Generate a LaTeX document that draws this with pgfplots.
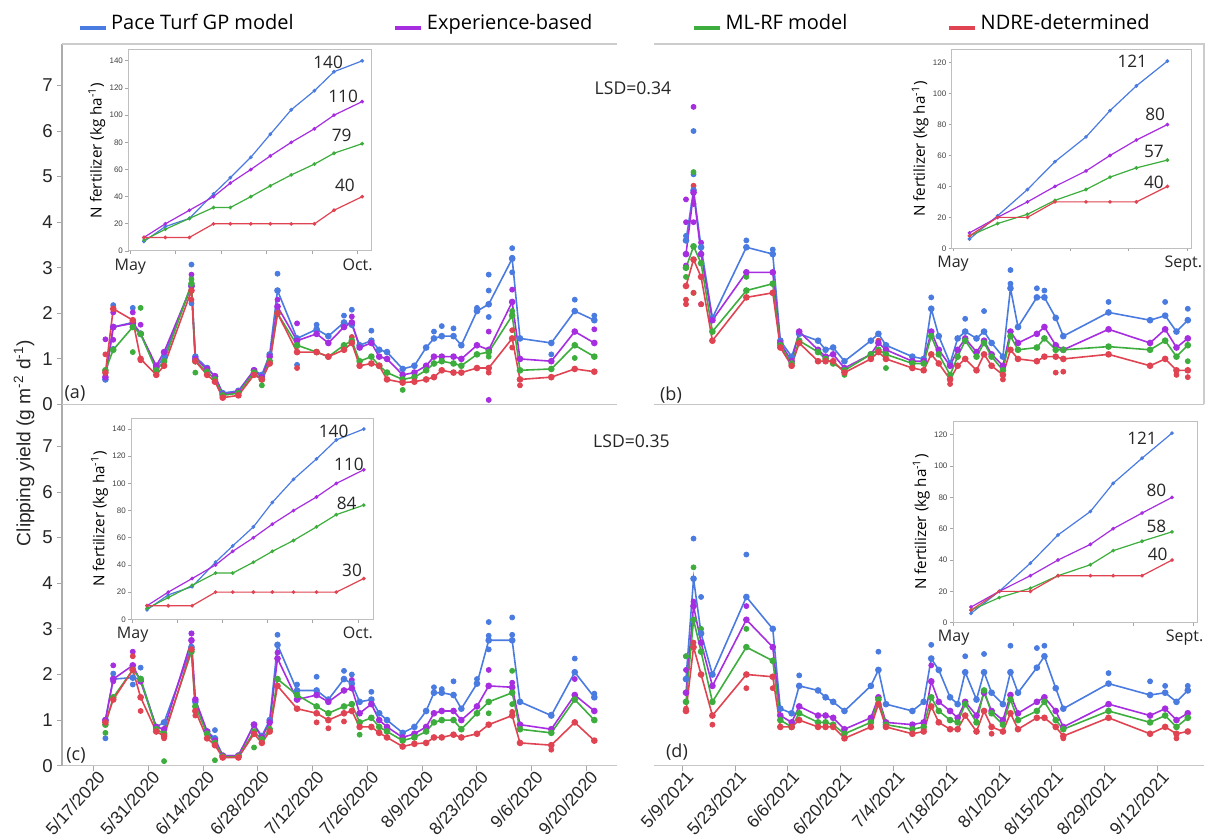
\documentclass[border=0pt]{standalone}
\usepackage{fontspec}
\setmainfont{Liberation Sans}
\newfontfamily\os{Open Sans}
\usepackage{pgfplots}
\pgfplotsset{compat=1.18}
\usepackage{pgfplotstable}

\definecolor{cB}{HTML}{4A7BE0}
\definecolor{cP}{HTML}{A62EE0}
\definecolor{cG}{HTML}{3DAE3D}
\definecolor{cR}{HTML}{E04452}

% 2020, panel (a): days since 1 May
\pgfplotstableread{
d b p g r
19 0.55 0.60 0.75 0.70
21 1.70 1.70 1.20 2.10
26 1.80 1.78 1.70 1.85
28 1.55 1.55 1.55 1.00
32 0.80 0.85 0.75 0.65
34 1.05 1.15 0.95 0.85
41 2.60 2.60 2.65 2.50
42 1.05 1.00 0.95 0.95
45 0.80 0.78 0.72 0.65
47 0.62 0.62 0.55 0.50
49 0.25 0.22 0.20 0.15
53 0.30 0.28 0.25 0.20
57 0.75 0.75 0.70 0.65
59 0.65 0.60 0.55 0.55
61 1.10 1.05 0.95 0.90
63 2.50 2.15 2.00 2.00
68 1.45 1.40 1.30 1.15
73 1.65 1.55 1.15 1.15
76 1.50 1.35 1.05 1.05
80 1.80 1.70 1.30 1.20
82 1.75 1.80 1.40 1.35
84 1.30 1.25 0.95 0.85
87 1.40 1.35 1.05 0.90
89 1.20 1.05 0.85 0.85
91 1.15 1.00 0.70 0.55
95 0.78 0.65 0.55 0.48
98 0.85 0.70 0.60 0.50
101 1.25 0.85 0.75 0.55
103 1.45 1.05 0.90 0.60
105 1.50 1.05 0.95 0.75
108 1.50 1.05 0.90 0.70
110 1.30 1.00 0.85 0.70
114 2.05 1.30 1.10 0.80
117 2.20 1.20 1.15 0.80
123 3.20 2.25 1.95 1.45
125 1.45 1.00 0.75 0.55
133 1.35 0.95 0.78 0.60
139 2.05 1.60 1.30 0.78
144 1.85 1.35 1.05 0.72
}\tA

% 2020, panel (c)
\pgfplotstableread{
d b p g r
19 1.00 1.00 0.90 0.95
21 1.90 1.90 1.50 1.45
26 1.93 2.20 2.10 2.10
28 1.90 1.85 1.90 1.50
32 0.85 0.85 0.80 0.75
34 0.95 0.80 0.70 0.65
41 2.60 2.75 2.50 2.55
42 1.40 1.45 1.30 1.20
45 0.75 0.75 0.70 0.60
47 0.60 0.55 0.50 0.45
49 0.22 0.22 0.20 0.18
53 0.22 0.22 0.20 0.18
57 0.90 0.90 0.75 0.70
59 0.65 0.62 0.58 0.50
61 1.00 0.95 0.80 0.75
63 2.65 2.35 1.90 1.75
68 1.65 1.45 1.55 1.25
73 1.65 1.55 1.30 1.15
76 1.45 1.40 1.15 1.00
80 1.90 1.65 1.30 1.15
82 1.80 1.70 1.35 1.20
84 1.40 1.15 0.95 0.85
87 1.45 1.35 1.05 0.85
89 1.15 1.00 0.85 0.72
91 1.00 0.85 0.75 0.62
95 0.72 0.62 0.55 0.42
98 0.85 0.70 0.62 0.48
101 1.20 0.85 0.75 0.50
103 1.60 1.15 0.95 0.62
105 1.60 1.20 1.00 0.62
108 1.55 1.20 1.00 0.68
110 1.25 1.00 0.80 0.62
114 1.80 1.30 1.15 0.70
117 2.75 1.75 1.40 0.90
123 2.75 1.72 1.60 1.10
125 1.40 0.90 0.80 0.50
133 1.10 0.80 0.72 0.45
139 2.05 1.55 1.45 0.95
144 1.50 1.20 1.00 0.55
}\tC

% 2021, panel (b)
\pgfplotstableread{
d b p g r
9 3.60 3.30 3.00 2.60
11 4.70 4.65 3.47 3.18
13 3.45 3.30 3.10 2.80
16 1.90 1.85 1.60 1.40
25 3.45 2.90 2.50 2.35
32 3.30 2.90 2.65 2.45
34 1.40 1.35 1.30 1.25
37 1.05 0.95 0.90 0.85
39 1.55 1.60 1.40 1.35
44 1.40 1.20 1.15 0.95
46 1.20 1.05 1.00 0.95
48 1.25 1.10 0.90 0.95
51 0.95 0.80 0.75 0.70
58 1.40 1.10 1.10 1.00
60 1.55 1.35 1.20 1.15
62 1.30 1.20 1.10 1.00
69 1.05 0.95 0.90 0.80
72 1.00 0.95 0.90 0.75
74 2.10 1.60 1.50 1.10
76 1.50 1.20 1.10 0.90
79 0.90 0.85 0.65 0.55
81 1.45 1.20 1.05 0.85
83 1.60 1.45 1.40 1.00
86 1.45 1.15 1.05 0.75
88 1.60 1.40 1.35 1.10
90 1.35 1.10 1.05 0.85
93 1.05 0.85 0.75 0.65
95 2.55 1.60 1.50 1.20
97 1.70 1.35 1.20 1.00
102 2.35 1.55 1.25 0.95
104 2.35 1.70 1.45 1.05
107 1.90 1.30 1.20 1.05
109 1.50 1.20 1.20 1.00
121 2.02 1.65 1.27 1.10
132 1.85 1.35 1.20 0.85
136 1.95 1.65 1.40 1.00
139 1.60 1.25 1.05 0.75
142 1.85 1.45 1.30 0.75
}\tB

% 2021, panel (d)
\pgfplotstableread{
d b p g r
9 1.90 1.60 1.40 1.20
11 4.10 3.50 3.20 2.60
13 2.90 2.70 2.50 2.00
16 2.00 1.75 1.40 1.10
25 3.70 3.20 2.60 2.00
32 3.00 2.60 2.30 1.95
34 1.25 1.10 1.00 0.85
37 1.15 0.95 0.85 0.85
39 1.75 1.30 1.15 1.00
44 1.65 1.10 0.95 0.85
46 1.50 1.10 0.95 0.85
48 1.40 1.05 0.90 0.85
51 1.20 0.80 0.70 0.60
58 1.75 1.05 0.95 0.85
60 2.10 1.50 1.45 1.35
62 1.35 0.95 0.90 0.85
69 1.20 0.90 0.80 0.70
72 1.40 0.95 0.85 0.75
74 2.35 1.85 1.50 1.30
76 2.10 1.40 1.20 0.95
79 1.50 1.20 1.00 0.80
81 1.35 1.05 0.95 0.80
83 2.05 1.40 1.35 1.10
86 1.45 1.10 0.95 0.75
88 2.05 1.60 1.65 1.20
90 1.60 1.20 1.15 0.85
93 1.35 1.00 0.90 0.75
95 2.05 1.55 1.45 1.15
97 1.60 1.15 1.00 0.80
102 2.15 1.40 1.20 1.05
104 2.40 1.50 1.40 1.05
107 1.70 1.20 1.00 0.85
109 1.25 0.85 0.80 0.65
121 1.80 1.35 1.20 1.05
132 1.55 1.10 0.95 0.70
136 1.60 1.25 1.10 0.85
139 1.40 1.00 0.85 0.70
142 1.65 1.15 1.05 0.75
}\tD

\tikzset{ann/.style={font=\os\fontsize{8.6}{9}\selectfont, text=black!85, inner sep=0pt}}
\pgfplotsset{
  /pgf/number format/assume math mode=true,
  main/.style={scale only axis, anchor=south west, ymin=0, ymax=7.91, clip=false,
    axis line style={-, draw=gray!45, line width=0.6pt},
    tick style={draw=gray!70, line width=0.5pt},
    tick align=outside, major tick length=2.5pt,
    yticklabel style={font=\fontsize{9.3}{10}\selectfont, text=black!85, inner sep=2pt},
    xticklabel style={font=\fontsize{8.8}{10}\selectfont, text=black!85, rotate=48, anchor=north east, inner sep=0.5pt, xshift=2pt}},
  ln/.style={line width=0.8pt, mark=*, mark size=1.25pt},
  dt/.style={only marks, mark=*, mark size=1.25pt, forget plot},
  inset/.style={scale only axis, anchor=south west, ymin=0, clip=false,
    axis background/.style={fill=white},
    axis line style={draw=gray!50, line width=0.5pt},
    tick style={draw=gray!70, line width=0.4pt},
    tick align=outside, major tick length=1.6pt,
    xtick pos=bottom, ytick pos=left,
    yticklabel style={font=\fontsize{4}{4}\selectfont, text=black!75, inner sep=1pt},
    xticklabel style={font=\os\fontsize{8}{9}\selectfont, text=black!85, inner sep=2pt},
    ylabel={N fertilizer (kg ha\textsuperscript{-1})},
    ylabel style={font=\os\fontsize{7.6}{8}\selectfont, inner sep=1pt}},
  iln/.style={line width=0.6pt, mark=*, mark size=0.6pt}
}

\begin{document}
\begin{tikzpicture}
\useasboundingbox (0pt,0pt) rectangle (602.5pt,418pt);

% ---------------- panel (a)
\begin{axis}[main, at={(31pt,215.75pt)}, width=277.5pt, height=180.25pt,
  xmin=7.9, xmax=149.8, axis x line*=bottom, axis y line*=left,
  y axis line style={draw=gray!65}, xtick=\empty, ytick={0,...,7},
  legend columns=4,
  legend style={draw=none, fill=none, at={(0.028,1.058)}, anchor=west,
    font=\os\fontsize{10}{12}\selectfont, inner sep=0pt,
    /tikz/every even column/.append style={column sep=48pt},
    cells={anchor=west}},
  legend image code/.code={\draw[#1, line width=1.6pt] (0pt,-2.5pt) -- (13pt,-2.5pt);}]
\draw[gray!40, line width=0.6pt] (rel axis cs:0,1) -- (rel axis cs:1,1);
\addplot[dt, cB] coordinates {(21,2.18)(21,1.22)(26,2.12)(41,3.07)(41,2.22)(63,2.87)(73,1.75)(80,1.95)(82,2.08)(87,1.62)(103,1.6)(105,1.72)(108,1.67)(114,2.12)(117,2.85)(117,2.5)(117,1.92)(123,3.43)(123,3.22)(123,2.9)(139,2.3)(144,1.95)(68,0.87)(133,1.1)};
\addplot[dt, cP] coordinates {(19,1.43)(21,2.02)(21,1.42)(26,2.02)(28,1.75)(41,2.85)(63,2.3)(68,1.78)(82,1.93)(117,1.6)(117,0.1)(123,2.52)(144,1.65)};
\addplot[dt, cG] coordinates {(28,2.12)(26,1.15)(41,2.75)(42,0.7)(59,0.42)(95,0.32)(117,1.05)(123,2.05)(139,1.02)};
\addplot[dt, cR] coordinates {(19,1.1)(28,0.97)(41,2.3)(68,1.28)(68,0.8)(82,1.48)(117,0.7)(123,1.63)(123,1.25)(125,0.42)};
\addplot[ln, cB] table[x=d, y=b] {\tA}; \addlegendentry{Pace Turf GP model}
\addplot[ln, cP] table[x=d, y=p] {\tA}; \addlegendentry{Experience-based}
\addplot[ln, cG] table[x=d, y=g] {\tA}; \addlegendentry{ML-RF model}
\addplot[ln, cR] table[x=d, y=r] {\tA}; \addlegendentry{NDRE-determined}
\end{axis}

% ---------------- panel (b)
\begin{axis}[main, at={(327pt,215.75pt)}, width=275pt, height=180.25pt,
  xmin=0.52, xmax=146.3, axis x line*=bottom, axis y line=none,
  xtick=\empty, ytick=\empty]
\draw[gray!40, line width=0.6pt] (rel axis cs:0,1) -- (rel axis cs:1,1) -- (rel axis cs:1,0);
\addplot[dt, cB] coordinates {(11,6.0)(11,5.05)(9,3.7)(13,3.3)(25,3.6)(32,3.4)(74,2.35)(95,2.95)(95,2.65)(102,2.55)(104,2.5)(121,2.25)(136,2.25)(142,2.1)(88,2.05)(83,1.88)};
\addplot[dt, cP] coordinates {(11,6.53)(9,4.5)(9,4.0)(11,4.4)(11,4.0)(9,3.05)(13,3.55)(13,2.2)};
\addplot[dt, cG] coordinates {(11,5.1)(9,3.3)(9,2.8)(11,2.45)(25,2.8)(51,0.65)(62,0.8)(142,0.95)};
\addplot[dt, cR] coordinates {(11,4.8)(9,2.2)(9,2.3)(11,2.45)(13,2.2)(60,1.4)(79,0.45)(93,0.55)(107,0.7)(109,0.72)(142,0.6)(139,0.65)};
\addplot[ln, cB] table[x=d, y=b] {\tB};
\addplot[ln, cP] table[x=d, y=p] {\tB};
\addplot[ln, cG] table[x=d, y=g] {\tB};
\addplot[ln, cR] table[x=d, y=r] {\tB};
\end{axis}

% ---------------- panel (c)
\begin{axis}[main, at={(31pt,35.15pt)}, width=277.5pt, height=180.6pt,
  xmin=7.9, xmax=149.8, ymax=7.92, axis x line*=bottom, axis y line*=left,
  y axis line style={draw=gray!65}, ytick={0,...,7},
  xtick={16,30,44,58,72,86,100,114,128,142},
  xticklabels={5/17/2020,5/31/2020,6/14/2020,6/28/2020,7/12/2020,7/26/2020,8/9/2020,8/23/2020,9/6/2020,9/20/2020}]
\addplot[dt, cB] coordinates {(19,0.6)(21,2.02)(26,1.78)(28,2.15)(41,2.9)(47,0.78)(63,2.87)(68,1.78)(73,1.95)(80,2.08)(82,2.0)(87,1.62)(103,1.72)(105,1.68)(108,1.85)(114,1.9)(117,3.15)(117,2.85)(117,2.55)(123,3.25)(123,2.87)(139,2.35)(144,1.58)(133,1.12)};
\addplot[dt, cP] coordinates {(21,2.2)(21,1.85)(26,2.5)(41,2.9)(63,2.48)(82,1.88)(117,2.1)(123,1.82)(139,1.9)};
\addplot[dt, cG] coordinates {(34,0.1)(47,0.12)(57,0.4)(84,0.68)(117,1.15)(123,2.08)(123,1.35)(19,0.72)};
\addplot[dt, cR] coordinates {(26,2.4)(28,1.2)(34,0.6)(42,1.1)(73,0.95)(76,0.82)(80,0.97)(123,1.18)(133,0.35)};
\addplot[ln, cB] table[x=d, y=b] {\tC};
\addplot[ln, cP] table[x=d, y=p] {\tC};
\addplot[ln, cG] table[x=d, y=g] {\tC};
\addplot[ln, cR] table[x=d, y=r] {\tC};
\end{axis}

% ---------------- panel (d)
\begin{axis}[main, at={(327pt,35.15pt)}, width=275pt, height=180.6pt,
  xmin=0.52, xmax=146.3, ymax=7.92, axis x line*=bottom, axis y line=none, ytick=\empty,
  xtick={8,22,36,50,64,78,92,106,120,134},
  xticklabels={5/9/2021,5/23/2021,6/6/2021,6/20/2021,7/4/2021,7/18/2021,8/1/2021,8/15/2021,8/29/2021,9/12/2021}]
\addplot[dt, cB] coordinates {(11,4.98)(25,4.63)(13,3.7)(9,2.4)(60,2.5)(74,2.65)(83,2.4)(88,2.45)(95,2.63)(104,2.63)(102,2.58)(121,2.03)(132,1.85)(136,1.75)(142,1.75)(39,1.98)};
\addplot[dt, cP] coordinates {(11,3.6)(25,3.5)(9,2.1)(74,2.2)};
\addplot[dt, cG] coordinates {(11,4.35)(25,3.0)(13,3.0)(9,2.4)};
\addplot[dt, cR] coordinates {(11,2.7)(9,1.25)(16,0.9)(25,1.7)(32,1.7)(72,0.8)(90,0.7)(109,0.6)(139,0.6)};
\addplot[ln, cB] table[x=d, y=b] {\tD};
\addplot[ln, cP] table[x=d, y=p] {\tD};
\addplot[ln, cG] table[x=d, y=g] {\tD};
\addplot[ln, cR] table[x=d, y=r] {\tD};
\end{axis}

% ---------------- insets
\begin{axis}[inset, at={(64.25pt,292.5pt)}, width=121.6pt, height=100.5pt,
  xmin=-0.04, xmax=5.31, ymax=148, ytick={0,20,...,140},
  xtick={0,...,5}, xticklabels={May,,,,,Oct.}]
\addplot[iln, cB] coordinates {(0.30,7)(0.77,18)(1.30,24)(1.83,42)(2.2,54)(2.65,69)(3.08,86)(3.54,104)(4.05,118)(4.48,132)(5.1,140)};
\addplot[iln, cP] coordinates {(0.30,10)(0.77,20)(1.30,30)(1.83,40)(2.2,50)(2.65,60)(3.08,70)(3.54,80)(4.05,90)(4.48,100)(5.1,110)};
\addplot[iln, cG] coordinates {(0.30,8)(0.77,16)(1.30,24)(1.83,32)(2.2,32)(2.65,40)(3.08,48)(3.54,56)(4.05,64)(4.48,72)(5.1,79)};
\addplot[iln, cR] coordinates {(0.30,10)(0.77,10)(1.30,10)(1.83,20)(2.2,20)(2.65,20)(3.08,20)(3.54,20)(4.05,20)(4.48,30)(5.1,40)};
\node[ann] at (axis cs:4.35,139) {140};
\node[ann] at (axis cs:4.68,114) {110};
\node[ann] at (axis cs:4.65,85.5) {79};
\node[ann] at (axis cs:4.72,48) {40};
\end{axis}

\begin{axis}[inset, at={(65.65pt,108.35pt)}, width=121.2pt, height=100.5pt,
  xmin=-0.03, xmax=5.35, ymax=147.9, ytick={0,20,...,140},
  xtick={0,...,5}, xticklabels={May,,,,,Oct.}]
\addplot[iln, cB] coordinates {(0.32,7)(0.79,18)(1.32,24)(1.84,42)(2.22,54)(2.68,68)(3.1,86)(3.57,103)(4.08,118)(4.52,132)(5.13,140)};
\addplot[iln, cP] coordinates {(0.32,10)(0.79,20)(1.32,30)(1.84,40)(2.22,50)(2.68,60)(3.1,70)(3.57,80)(4.08,90)(4.52,100)(5.13,110)};
\addplot[iln, cG] coordinates {(0.32,8)(0.79,16)(1.32,25)(1.84,34)(2.22,34)(2.68,42)(3.1,50)(3.57,58)(4.08,68)(4.52,77)(5.13,84)};
\addplot[iln, cR] coordinates {(0.32,10)(0.79,10)(1.32,10)(1.84,20)(2.22,20)(2.68,20)(3.1,20)(3.57,20)(4.08,20)(4.52,20)(5.13,30)};
\node[ann] at (axis cs:4.46,138.5) {140};
\node[ann] at (axis cs:4.8,114) {110};
\node[ann] at (axis cs:4.75,85) {84};
\node[ann] at (axis cs:4.87,36) {30};
\end{axis}

\begin{axis}[inset, at={(475.95pt,293.85pt)}, width=119.75pt, height=99.15pt,
  xmin=-0.02, xmax=4.07, ymax=128.2, ytick={0,20,...,120},
  xtick={0,...,4}, xticklabels={May,,,,\hspace*{-4pt}Sept.}]
\addplot[iln, cB] coordinates {(0.28,6)(0.76,21)(1.27,38)(1.74,56)(2.27,72)(2.68,89)(3.13,105)(3.66,121)};
\addplot[iln, cP] coordinates {(0.28,10)(0.76,20)(1.27,30)(1.74,40)(2.27,50)(2.68,60)(3.13,70)(3.66,80)};
\addplot[iln, cG] coordinates {(0.28,8)(0.76,16)(1.27,22)(1.74,31)(2.27,38)(2.68,46)(3.13,52)(3.66,57)};
\addplot[iln, cR] coordinates {(0.28,8)(0.76,20)(1.27,20)(1.74,30)(2.27,30)(2.68,30)(3.13,30)(3.66,40)};
\node[ann] at (axis cs:3.06,120.7) {121};
\node[ann] at (axis cs:3.45,86.6) {80};
\node[ann] at (axis cs:3.43,62.5) {57};
\node[ann] at (axis cs:3.43,42.7) {40};
\end{axis}

\begin{axis}[inset, at={(476.5pt,106.65pt)}, width=122.1pt, height=100.5pt,
  xmin=-0.01, xmax=4.06, ymax=128.3, ytick={0,20,...,120},
  xtick={0,...,4}, xticklabels={May,,,,\hspace*{-9pt}Sept.}]
\addplot[iln, cB] coordinates {(0.29,6)(0.76,20)(1.28,38)(1.74,56)(2.28,71)(2.66,89)(3.14,105)(3.64,121)};
\addplot[iln, cP] coordinates {(0.29,10)(0.76,20)(1.28,30)(1.74,40)(2.28,50)(2.66,60)(3.14,70)(3.64,80)};
\addplot[iln, cG] coordinates {(0.29,8)(0.76,16)(1.28,22)(1.74,30)(2.28,37)(2.66,46)(3.14,52)(3.64,58)};
\addplot[iln, cR] coordinates {(0.29,8)(0.76,20)(1.28,20)(1.74,30)(2.28,30)(2.66,30)(3.14,30)(3.64,40)};
\node[ann] at (axis cs:3.14,118) {121};
\node[ann] at (axis cs:3.38,84.7) {80};
\node[ann] at (axis cs:3.38,61.7) {58};
\node[ann] at (axis cs:3.4,43.8) {40};
\end{axis}

% ---------------- texts
\node[rotate=90, font=\fontsize{9.6}{10}\selectfont, text=black!85] at (12pt,196.5pt) {Clipping yield (g m\textsuperscript{-2} d\textsuperscript{-1})};
\node[font=\os\fontsize{8.8}{10}\selectfont, text=black!85] at (316.5pt,374pt) {LSD=0.34};
\node[font=\os\fontsize{8.8}{10}\selectfont, text=black!85] at (315.75pt,197.15pt) {LSD=0.35};
\node[font=\os\fontsize{9}{10}\selectfont, text=black!85] at (37.5pt,221pt) {(a)};
\node[font=\os\fontsize{9}{10}\selectfont, text=black!85] at (335.5pt,220.5pt) {(b)};
\node[font=\os\fontsize{9}{10}\selectfont, text=black!85] at (38pt,40.5pt) {(c)};
\node[font=\os\fontsize{9}{10}\selectfont, text=black!85] at (338.5pt,42.15pt) {(d)};
\end{tikzpicture}
\end{document}
